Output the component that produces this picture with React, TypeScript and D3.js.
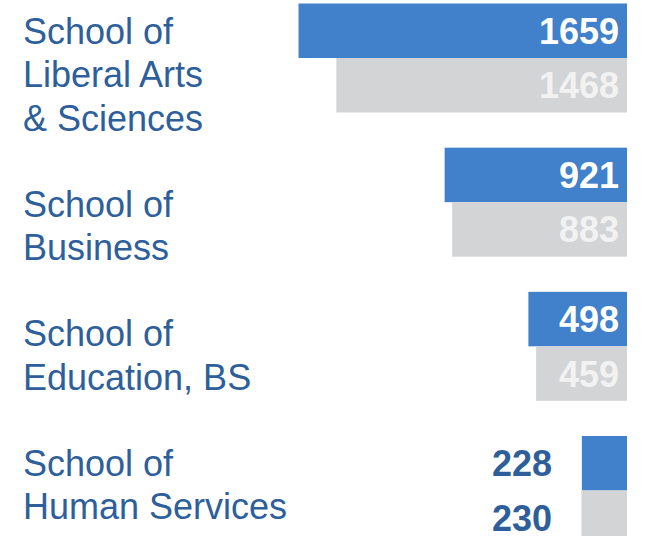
import React, { useEffect, useRef } from 'react';
import * as d3 from 'd3';

// schools, each label split in lines
const schools = ['Liberal Arts', 'Business', 'Education', 'Human Services'];
const schoolLabels = [
    ['School of', 'Liberal Arts', '& Sciences'],
    ['School of', 'Business'],
    ['School of', 'Education, BS'],
    ['School of', 'Human Services'],
];
const series = ['current', 'previous'];
const currentValues = [1659, 921, 498, 228];
const previousValues = [1468, 883, 459, 230];

const App = () => {
    const svgRef = useRef<SVGSVGElement>(null);
    const width = 646;
    const height = 536;

    useEffect(() => {
        const svg = d3.select(svgRef.current);
        svg.selectAll('*').remove();

        const xRight = 627;
        const yScale = d3.scaleBand<string>()
            .domain(schools)
            .range([3.5, 545])
            .paddingInner(0.244)
            .paddingOuter(0);

        const subScale = d3.scaleBand<string>()
            .domain(series)
            .range([0, yScale.bandwidth()]);

        // labels are bottom aligned, last line baseline on this scale
        const labelScale = d3.scalePoint<string>()
            .domain(schools)
            .range([130.5, 519]);

        const wScale = d3.scaleLinear()
            .domain([0, d3.max(currentValues) as number])
            .range([0, 328.5]);

        const colors: Record<string, string> = { current: '#4180ca', previous: '#d3d4d6' };
        const inColors: Record<string, string> = { current: '#ffffff', previous: '#f2f2f2' };

        const rows = schools.map((s, i) => ({
            school: s,
            lines: schoolLabels[i],
            bars: [
                { key: 'current', value: currentValues[i] },
                { key: 'previous', value: previousValues[i] },
            ],
        }));

        const g = svg.selectAll('g.row')
            .data(rows)
            .enter()
            .append('g')
            .attr('class', 'row')
            .attr('transform', d => `translate(0, ${yScale(d.school)})`);

        g.selectAll('rect')
            .data(d => d.bars)
            .enter()
            .append('rect')
            .attr('x', d => xRight - wScale(d.value))
            .attr('y', d => subScale(d.key) as number)
            .attr('width', d => wScale(d.value))
            .attr('height', subScale.bandwidth())
            .attr('fill', d => colors[d.key]);

        // value labels: inside the bar when it fits, else to the left in blue
        g.each(function (row) {
            const anyOutside = row.bars.some(b => wScale(b.value) < 75);
            d3.select(this).selectAll('text.value')
                .data(row.bars)
                .enter()
                .append('text')
                .attr('class', 'value')
                .attr('x', anyOutside ? xRight - 75 : xRight - 8)
                .attr('y', d => (subScale(d.key) as number) + subScale.bandwidth() / 2)
                .attr('dy', '0.36em')
                .attr('text-anchor', 'end')
                .attr('font-family', 'Liberation Sans, Arial, sans-serif')
                .attr('font-weight', 'bold')
                .attr('font-size', 36)
                .attr('fill', d => anyOutside ? '#2e5f9b' : inColors[d.key])
                .text(d => d.value);
        });

        // category labels
        const lineH = 43.5;
        svg.selectAll('text.cat')
            .data(rows)
            .enter()
            .append('text')
            .attr('class', 'cat')
            .attr('font-family', 'Liberation Sans, Arial, sans-serif')
            .attr('font-size', 36)
            .attr('fill', '#2e5f9b')
            .each(function (row) {
                const n = row.lines.length;
                const lastBase = labelScale(row.school) as number;
                d3.select(this).selectAll('tspan')
                    .data(row.lines)
                    .enter()
                    .append('tspan')
                    .attr('x', 23)
                    .attr('y', (_, i) => lastBase - (n - 1 - i) * lineH)
                    .text(t => t);
            });
    }, []);

    return (
        <svg ref={svgRef} width={width} height={height}
            style={{ position: 'absolute', left: 0, top: 0, background: '#fff' }}></svg>
    );
};

export default App;
